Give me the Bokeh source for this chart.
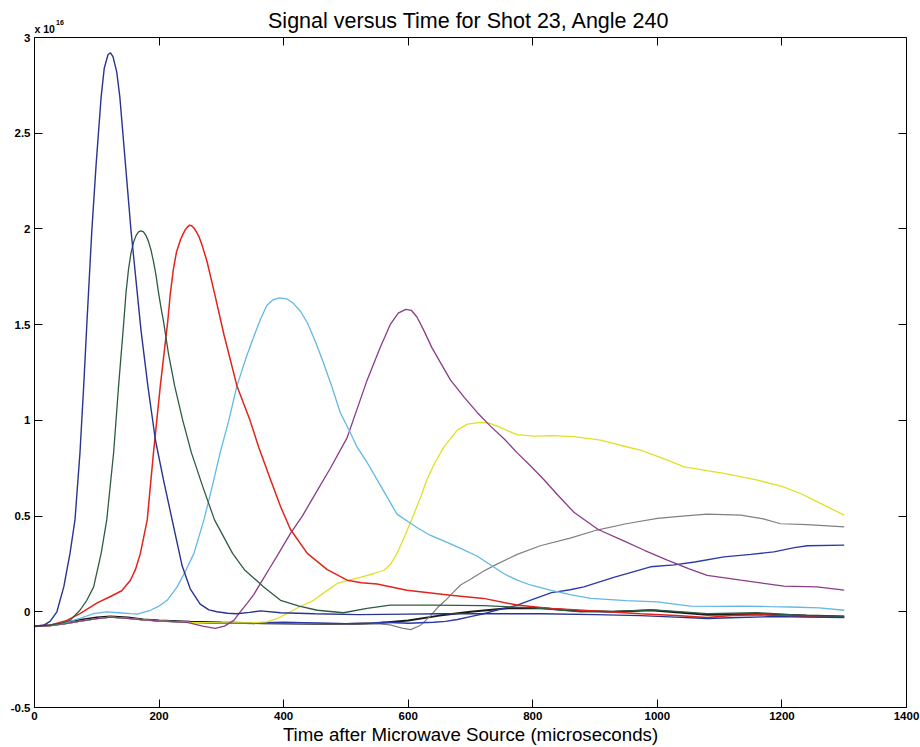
from bokeh.plotting import figure
from bokeh.models import Range1d, LinearAxis, FixedTicker, Label
from bokeh.embed import file_html
from bokeh.resources import INLINE

# ---------------- data (signal in units of 1e16) ----------------
X_MIN, X_MAX = 0, 1400
Y_MIN, Y_MAX = -0.5, 3.0
X_TICKS = [0, 200, 400, 600, 800, 1000, 1200, 1400]
Y_TICKS = [-0.5, 0, 0.5, 1, 1.5, 2, 2.5, 3]
Y_TICK_LABELS = ["-0.5", "0", "0.5", "1", "1.5", "2", "2.5", "3"]

TITLE = "Signal versus Time for Shot 23, Angle 240"
X_LABEL = "Time after Microwave Source (microseconds)"
SCALE_TEXT = "x 10"
SCALE_EXP = "16"

blue1_t = [0, 15, 25, 36, 47, 57, 65, 73, 79, 84, 92, 99, 107, 112, 118, 122, 126, 132, 137, 146, 155, 163,
           171, 182, 194, 207, 223, 237, 250, 266, 280, 293, 310, 325, 345, 363, 395, 450, 520, 600, 652, 720,
           812, 900, 973, 1030, 1080, 1130, 1187, 1240, 1300]
blue1_v = [-0.075, -0.07, -0.05, 0.0, 0.13, 0.305, 0.48, 0.83, 1.18, 1.5, 1.99, 2.34, 2.69, 2.84, 2.91, 2.92, 2.9, 2.82, 2.69, 2.34, 1.99, 1.73,
           1.47, 1.18, 0.9, 0.69, 0.45, 0.24, 0.12, 0.04, 0.01, 0.0, -0.008, -0.01, -0.003, 0.005, -0.005, -0.01, -0.015, -0.012, -0.01, -0.01,
           -0.01, -0.015, -0.02, -0.028, -0.035, -0.03, -0.025, -0.028, -0.03]

green_t = [0, 25, 45, 57, 73, 84, 95, 107, 116, 127, 135, 143, 147, 151, 155, 159, 163, 167, 171, 175,
           179, 183, 187, 191, 195, 199, 203, 207, 215, 225, 238, 252, 270, 289, 318, 337, 368, 395, 425, 454,
           496, 534, 571, 641, 721, 801, 840, 877, 930, 994, 1040, 1080, 1161, 1240, 1300]
green_v = [-0.075, -0.07, -0.058, -0.045, 0.008, 0.06, 0.13, 0.305, 0.48, 0.83, 1.18, 1.5, 1.67, 1.79, 1.875, 1.93, 1.965, 1.985, 1.99, 1.985,
           1.965, 1.935, 1.89, 1.83, 1.76, 1.67, 1.59, 1.52, 1.35, 1.18, 1.0, 0.83, 0.655, 0.48, 0.305, 0.22, 0.13, 0.06, 0.03, 0.008,
           -0.005, 0.018, 0.035, 0.035, 0.032, 0.02, 0.01, 0.0, 0.002, 0.01, 0.0, -0.01, -0.005, -0.02, -0.025]

red_t = [0, 25, 52, 73, 100, 122, 140, 154, 162, 170, 181, 191, 202, 214, 218, 223, 228, 234, 238, 242,
         245, 249, 252, 256, 260, 264, 270, 277, 290, 304, 325, 346, 360, 379, 395, 411, 438, 470, 502, 525,
         550, 598, 668, 721, 775, 828, 866, 920, 973, 1030, 1080, 1120, 1161, 1240, 1300]
red_v = [-0.075, -0.07, -0.045, -0.01, 0.045, 0.08, 0.11, 0.165, 0.22, 0.305, 0.48, 0.83, 1.18, 1.52, 1.66, 1.79, 1.88, 1.94, 1.97, 1.995,
         2.008, 2.02, 2.017, 2.005, 1.985, 1.96, 1.905, 1.83, 1.65, 1.45, 1.18, 1.0, 0.86, 0.69, 0.55, 0.43, 0.305, 0.22, 0.165, 0.152,
         0.145, 0.113, 0.087, 0.07, 0.035, 0.017, 0.01, 0.0, -0.01, -0.02, -0.03, -0.02, -0.015, -0.025, -0.025]

cyan_t = [0, 25, 50, 73, 95, 116, 135, 154, 165, 186, 200, 213, 229, 242, 256, 272, 285, 298, 312, 325,
          340, 350, 363, 373, 383, 393, 405, 416, 427, 438, 450, 464, 478, 491, 505, 518, 534, 550, 566, 582,
          600, 614, 635, 657, 685, 711, 730, 753, 775, 796, 828, 860, 893, 950, 1000, 1053, 1100, 1134, 1180, 1214,
          1260, 1300]
cyan_v = [-0.075, -0.07, -0.055, -0.035, -0.01, 0.0, -0.005, -0.01, -0.012, 0.008, 0.03, 0.06, 0.13, 0.21, 0.305, 0.48, 0.65, 0.83, 1.0, 1.18,
          1.33, 1.42, 1.53, 1.6, 1.63, 1.64, 1.635, 1.61, 1.57, 1.51, 1.42, 1.3, 1.17, 1.04, 0.95, 0.86, 0.78, 0.69, 0.6, 0.51,
          0.47, 0.44, 0.4, 0.37, 0.33, 0.29, 0.25, 0.2, 0.165, 0.14, 0.113, 0.09, 0.07, 0.058, 0.052, 0.03, 0.028, 0.03, 0.027, 0.025,
          0.02, 0.008]

purple_t = [0, 25, 50, 75, 100, 122, 150, 175, 200, 245, 270, 290, 305, 320, 330, 341, 352, 363, 378, 392,
            411, 430, 448, 475, 502, 518, 534, 555, 571, 584, 596, 605, 614, 625, 638, 652, 668, 690, 711, 732,
            755, 775, 797, 818, 840, 866, 905, 946, 980, 1016, 1050, 1080, 1134, 1203, 1256, 1300]
purple_v = [-0.075, -0.072, -0.062, -0.048, -0.036, -0.028, -0.034, -0.042, -0.048, -0.055, -0.075, -0.087, -0.075, -0.045, -0.002, 0.043, 0.09, 0.15, 0.23, 0.305,
            0.41, 0.5, 0.6, 0.75, 0.91, 1.06, 1.21, 1.38, 1.5, 1.56, 1.58, 1.575, 1.54, 1.47, 1.38, 1.3, 1.21, 1.12, 1.04, 0.97,
            0.9, 0.83, 0.76, 0.69, 0.61, 0.52, 0.43, 0.37, 0.32, 0.27, 0.225, 0.19, 0.165, 0.134, 0.13, 0.113]

yellow_t = [0, 25, 50, 75, 100, 122, 150, 175, 200, 250, 300, 350, 373, 390, 405, 425, 448, 465, 486, 505,
            523, 545, 561, 572, 582, 595, 609, 620, 630, 643, 657, 679, 695, 716, 730, 743, 760, 775, 802, 830,
            866, 909, 940, 973, 1010, 1043, 1075, 1107, 1161, 1200, 1230, 1262, 1300]
yellow_v = [-0.075, -0.072, -0.062, -0.048, -0.036, -0.028, -0.034, -0.042, -0.048, -0.055, -0.058, -0.057, -0.053, -0.035, -0.01, 0.025, 0.06, 0.1, 0.148, 0.165,
            0.18, 0.2, 0.217, 0.25, 0.305, 0.4, 0.51, 0.6, 0.69, 0.78, 0.86, 0.95, 0.98, 0.99, 0.985, 0.97, 0.945, 0.925, 0.918, 0.92,
            0.915, 0.897, 0.87, 0.845, 0.8, 0.757, 0.74, 0.723, 0.688, 0.655, 0.618, 0.566, 0.505]

gray_t = [0, 25, 50, 75, 100, 122, 150, 175, 200, 250, 300, 400, 450, 500, 540, 571, 590, 604, 620, 636,
          648, 660, 668, 684, 700, 720, 740, 775, 812, 860, 903, 950, 1000, 1040, 1080, 1134, 1170, 1198, 1241, 1300]
gray_v = [-0.075, -0.072, -0.062, -0.048, -0.036, -0.028, -0.034, -0.042, -0.048, -0.055, -0.058, -0.06, -0.062, -0.065, -0.06, -0.068, -0.085, -0.093, -0.07, -0.02,
          0.025, 0.06, 0.087, 0.14, 0.17, 0.21, 0.245, 0.3, 0.345, 0.385, 0.427, 0.46, 0.488, 0.5, 0.51, 0.505, 0.485, 0.46, 0.455, 0.444]

blue2_t = [0, 25, 50, 75, 100, 122, 150, 175, 200, 250, 300, 350, 400, 450, 500, 540, 560, 600, 641, 660,
           679, 700, 721, 750, 775, 800, 830, 860, 882, 930, 989, 1027, 1060, 1107, 1150, 1187, 1220, 1241, 1300]
blue2_v = [-0.075, -0.072, -0.062, -0.048, -0.036, -0.028, -0.034, -0.042, -0.048, -0.055, -0.06, -0.058, -0.055, -0.058, -0.062, -0.06, -0.055, -0.06, -0.055, -0.05,
           -0.04, -0.025, -0.01, 0.015, 0.035, 0.065, 0.1, 0.115, 0.13, 0.18, 0.235, 0.245, 0.26, 0.287, 0.3, 0.313, 0.335, 0.345, 0.348]

black_t = [0, 25, 50, 75, 100, 122, 150, 175, 200, 250, 300, 368, 450, 500, 550, 600, 650, 700, 760, 812,
           870, 930, 990, 1040, 1080, 1160, 1240, 1300]
black_v = [-0.075, -0.07, -0.058, -0.042, -0.03, -0.024, -0.03, -0.04, -0.046, -0.052, -0.056, -0.06, -0.062, -0.064, -0.06, -0.045, -0.02, 0.0, 0.018, 0.02,
           0.005, 0.0, 0.008, -0.005, -0.015, -0.012, -0.02, -0.025]

SERIES = [
    (black_t, black_v, "#1a1a1a", 2.0),
    (gray_t, gray_v, "#808080", 1.2),
    (blue2_t, blue2_v, "#2b3aa8", 1.4),
    (yellow_t, yellow_v, "#e0e026", 1.3),
    (purple_t, purple_v, "#8a3c88", 1.3),
    (cyan_t, cyan_v, "#62b8e2", 1.3),
    (red_t, red_v, "#e2241c", 1.5),
    (green_t, green_v, "#2e5c40", 1.3),
    (blue1_t, blue1_v, "#28348f", 1.4),
]

FONT = "Liberation Sans"
W, H = 920, 747
B_LEFT, B_RIGHT, B_TOP, B_BOTTOM = 34, 14, 5, 40
BOX_TOP_PX = 37          # pixel row of the top edge of the axes box
# the frame reaches above the box, so the title and the exponent note sit inside it
PX_PER_UNIT = (H - B_BOTTOM - BOX_TOP_PX) / (Y_MAX - Y_MIN)
Y_TOP = Y_MAX + (BOX_TOP_PX - B_TOP) / PX_PER_UNIT

p = figure(width=W, height=H, x_range=Range1d(X_MIN, X_MAX), y_range=Range1d(Y_MIN, Y_TOP),
           output_backend="svg", toolbar_location=None,
           min_border_left=B_LEFT, min_border_right=B_RIGHT, min_border_top=B_TOP, min_border_bottom=B_BOTTOM)
p.background_fill_color = "white"
p.border_fill_color = "white"
p.outline_line_color = None
p.xgrid.visible = False
p.ygrid.visible = False

for ax in (p.xaxis[0], p.yaxis[0]):
    ax.major_tick_in = 8
    ax.major_tick_out = 0
    ax.minor_tick_in = 0
    ax.minor_tick_out = 0
    ax.axis_line_color = "black"
    ax.major_tick_line_color = "black"
    ax.major_label_text_font = FONT
    ax.major_label_text_font_style = "bold"
    ax.major_label_text_font_size = "11.5px"
    ax.major_label_text_color = "black"

p.xaxis[0].ticker = FixedTicker(ticks=X_TICKS)
p.xaxis[0].major_label_standoff = 4
p.xaxis[0].axis_label = X_LABEL
p.xaxis[0].axis_label_text_font = FONT
p.xaxis[0].axis_label_text_font_size = "18.7px"
p.xaxis[0].axis_label_text_font_style = "normal"
p.xaxis[0].axis_label_text_color = "black"
p.xaxis[0].axis_label_standoff = 1

p.yaxis[0].ticker = FixedTicker(ticks=Y_TICKS)
p.yaxis[0].bounds = (Y_MIN, Y_MAX)
p.yaxis[0].major_label_standoff = 4
p.yaxis[0].major_label_overrides = {t: s for t, s in zip(Y_TICKS, Y_TICK_LABELS)}

# top edge of the box (at y = Y_MAX) and right edge, both with inward ticks and no labels
top_ax = LinearAxis(ticker=FixedTicker(ticks=X_TICKS), fixed_location=Y_MAX, bounds=(X_MIN, X_MAX),
                    major_tick_in=8, major_tick_out=0, minor_tick_in=0, minor_tick_out=0,
                    axis_line_color="black", major_tick_line_color="black",
                    major_label_text_font_size="1px", major_label_text_color=None, major_label_standoff=0)
p.add_layout(top_ax, "above")
right_ax = LinearAxis(ticker=FixedTicker(ticks=Y_TICKS), bounds=(Y_MIN, Y_MAX),
                      major_tick_in=8, major_tick_out=0, minor_tick_in=0, minor_tick_out=0,
                      axis_line_color="black", major_tick_line_color="black",
                      major_label_text_font_size="1px", major_label_text_color=None, major_label_standoff=0)
p.add_layout(right_ax, "right")

for t, v, c, w in SERIES:
    p.line(t, v, line_color=c, line_width=w)

# title and "x 10^16" note, anchored to the top edge of the box
p.add_layout(Label(x=(X_MIN + X_MAX) / 2, y=Y_MAX, x_offset=-1.5, y_offset=17, text=TITLE,
                   text_font=FONT, text_font_size="21.5px", text_font_style="normal",
                   text_baseline="alphabetic", text_align="center", text_color="black"))
p.add_layout(Label(x=X_MIN, y=Y_MAX, x_offset=0, y_offset=8.5, text=SCALE_TEXT,
                   text_font=FONT, text_font_size="10.5px", text_font_style="bold",
                   text_baseline="alphabetic", text_align="left", text_color="black"))
p.add_layout(Label(x=X_MIN, y=Y_MAX, x_offset=21.5, y_offset=15, text=SCALE_EXP,
                   text_font=FONT, text_font_size="7px", text_font_style="bold",
                   text_baseline="alphabetic", text_align="left", text_color="black"))

open("out.html", "w").write(file_html(p, INLINE))
